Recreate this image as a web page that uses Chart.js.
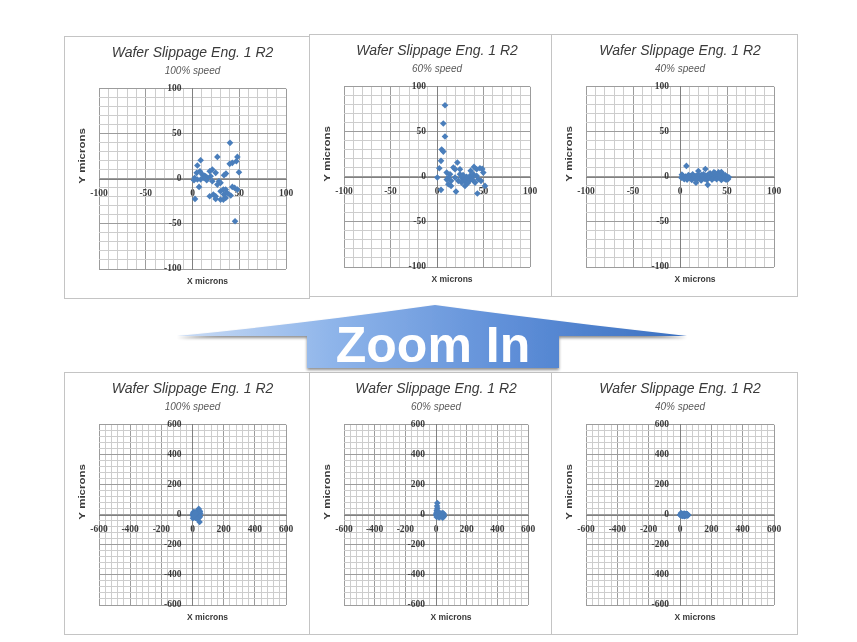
<!DOCTYPE html>
<html>
<head>
<meta charset="utf-8">
<script src="https://cdn.jsdelivr.net/npm/chart.js@4.4.1/dist/chart.umd.min.js"></script>
<style>
  body { margin: 0; background: #fff; width: 857px; height: 642px; position: relative; overflow: hidden; }
  .panel { position: absolute; background: #fff; border: 1px solid #c4c4c4; box-sizing: border-box; }
  .panel canvas { display: block; }
  #arrow { position: absolute; left: 0; top: 0; pointer-events: none; }
</style>
</head>
<body>

<div class="panel" style="left:64px;top:36px;width:246px;height:263px"><canvas id="c1" width="244" height="261"></canvas></div>
<div class="panel" style="left:309px;top:34px;width:245px;height:263px"><canvas id="c2" width="243" height="261"></canvas></div>
<div class="panel" style="left:551px;top:34px;width:247px;height:263px"><canvas id="c3" width="245" height="261"></canvas></div>
<div class="panel" style="left:64px;top:372px;width:246px;height:263px"><canvas id="c4" width="244" height="261"></canvas></div>
<div class="panel" style="left:309px;top:372px;width:243px;height:263px"><canvas id="c5" width="241" height="261"></canvas></div>
<div class="panel" style="left:551px;top:372px;width:247px;height:263px"><canvas id="c6" width="245" height="261"></canvas></div>

<!-- "Zoom In" arrow between the two rows -->
<svg id="arrow" width="857" height="642" viewBox="0 0 857 642">
  <defs>
    <linearGradient id="arrowFill" x1="177" y1="0" x2="687" y2="0" gradientUnits="userSpaceOnUse">
      <stop offset="0" stop-color="#cadcf5"/>
      <stop offset="0.3" stop-color="#8fb5ea"/>
      <stop offset="0.65" stop-color="#5f8fd8"/>
      <stop offset="1" stop-color="#3b70c0"/>
    </linearGradient>
    <filter id="arrowShadow" x="-5%" y="-30%" width="110%" height="170%">
      <feGaussianBlur in="SourceAlpha" stdDeviation="1.5"/>
      <feOffset dx="0" dy="2"/>
      <feComponentTransfer><feFuncA type="linear" slope="0.45"/></feComponentTransfer>
      <feMerge><feMergeNode/><feMergeNode in="SourceGraphic"/></feMerge>
    </filter>
  </defs>
  <path d="M177,336 Q300,324 435,305 Q560,322 687,336 L559,336 L559,368 L307,368 L307,336 Z"
        fill="url(#arrowFill)" filter="url(#arrowShadow)"/>
  <text x="433" y="362" text-anchor="middle" font-family="Liberation Sans, Arial, sans-serif"
        font-weight="bold" font-size="50" fill="#ffffff">Zoom In</text>
</svg>

<script>
// Chart text
const chartTitle = 'Wafer Slippage Eng. 1 R2';
const speeds = ['100% speed', '60% speed', '40% speed'];

// Axis ranges (zoomed row on top, full range row below)
const zoomRange = [-100, 100];
const zoomMajor = 50;
const zoomMinor = 10;
const wideRange = [-600, 600];
const wideMajor = 200;
const wideMinor = 40;

// 100% speed readings (microns)
const x100 = [40.1, 48, 26.6, 8.7, 5.2, 46.9, 42.6, 39.8, 49.7, 35.8, 33.7, 24.8, 18.4, 19.4, 15.9, 14, 12.3,
  10.5, 8, 4.5, 2.3, 5.2, 1.6, 8.7, 21.2, 28.3, 30, 26.6, 7, 2.7, 22.3, 24.8, 30, 33, 35.5, 33.7, 30, 35.5,
  37.3, 40.9, 33, 42.6, 45.1, 48, 45.5, 18.4, 24.8, 12.3, 15.2, 21.2];
const y100 = [40, 24.4, 24.4, 20.7, 14.8, 19.6, 17.8, 16.7, 7.4, 5.9, 4.1, 6.7, 8.5, 3, 1.1, 3, 3.7,
  4.8, 8.5, 6.7, 1.1, -0.7, -1.5, -0.7, -2.6, -2.6, -4.4, -6.3, -8.9, -22.2, -17.4, -19.3, -13.7, -11.9, -11.9, -17.4, -23, -21.1,
  -15.6, -18.5, -23, -8.9, -10, -11.9, -47, -19.3, -22.2, 1.1, -1.5, 10.4];

// 60% speed readings
const x60 = [8.6, 6.8, 8.6, 5, 6.8, 4.3, 2.5, 0.4, 4.3, 10.4, 14, 12.2, 15.1, 21.9, 17.6, 19.4, 12.2, 15.1,
  20.4, 24.7, 26.5, 28.3, 30.1, 31.9, 33.7, 35.5, 37.3, 39.1, 39.8, 36.2, 42.7, 46.2, 48.7, 44.4, 47.3, 51.6,
  43.4, 26.5, 22.9, 30.1, 40.9, 19.4, 24.7, 34.8, 42.7, 49.8, 10.5, 28, 33, 38];
const y60 = [79.6, 59.3, 44.8, 30.4, 28.1, 17.8, 9.6, -0.7, -14.4, 4.8, 3, -0.7, -4.4, 15.9, 10.4, 8.5, -8.1, -10,
  -16.3, 3, -0.7, -2.6, -4.4, 0, -1.5, 1.1, -0.7, 3, 11.1, 6.7, 8.5, 9.6, 8.9, -2.6, -4.4, -10,
  -18.5, -6.3, -4.4, -10, -6.3, -0.7, 8.5, -4.4, 1.1, 4.8, -3, 2, -7, -3];

// 40% speed readings
const x40 = [6.8, 27, 19.5, 29.5, 17, 1.5, 3, 4.5, 6, 7.5, 9, 10, 11.5, 12.5, 13.5, 15, 16, 18, 19, 20.5,
  21.5, 22.5, 24, 25, 26, 27.5, 28.5, 30, 31, 32, 33, 34, 35, 36, 37, 38, 39, 40, 41, 42, 43, 44, 45, 46,
  47, 48, 49, 50, 51, 52, 2, 8, 23, 36, 44];
const y40 = [12.2, 8.8, 6.5, -8.8, -6.5, -1, 1.5, -2.5, 0.5, -3, 2, -1, 1, -3.5, 3, -1.5, 1, -3, 2.5, -1,
  1.5, -4, 0, 3, -2, 1.5, -3.5, 2.5, -1, 4, 0.5, -3, 2, -1.5, 4.5, 0.5, -2.5, 3, 5, -1, 1.5, -3.5, 3.5, 0,
  -2, 2, -3, 0.5, -2.5, -0.5, 2.5, -1.5, 2, 5, 5.5];

const markerColour = '#4a7ebb';
const textColour = '#3a3a3a';

// Draws the "X microns" / "Y microns" titles next to the plot area
const axisTitles = {
  id: 'axisTitles',
  afterDraw(chart) {
    const ctx = chart.ctx;
    const a = chart.chartArea;
    ctx.save();
    ctx.font = 'bold 8.5px "Liberation Sans", Arial, sans-serif';
    ctx.fillStyle = textColour;
    ctx.textAlign = 'center';
    ctx.textBaseline = 'middle';
    ctx.fillText('X microns', (a.left + a.right) / 2 + 15, a.bottom + 13);
    ctx.translate(a.left - 16, (a.top + a.bottom) / 2 - 23);
    ctx.rotate(-Math.PI / 2);
    ctx.scale(1.35, 1);
    ctx.fillText('Y microns', 0, 0);
    ctx.restore();
  }
};

function makeChart(id, subtitle, xs, ys, range, minor, major) {
  var points = [];
  for (var i = 0; i < xs.length; i++) {
    points.push({x: xs[i], y: ys[i]});
  }

  //Major lines darker, minor lines lighter
  const gridColour = function(ctx) {
    return (ctx.tick && ctx.tick.value % major === 0) ? '#9c9c9c' : '#cdcdcd';
  };
  const tickLabel = function(value) {
    return value % major === 0 ? String(value) : '';
  };
  const tickFont = {family: '"Liberation Serif", serif', size: 9.5, weight: 'bold'};

  return new Chart(document.getElementById(id), {
    type: 'scatter',
    data: {
      datasets: [{
        data: points,
        pointStyle: 'rectRot',
        pointRadius: 3.3,
        backgroundColor: markerColour,
        borderColor: markerColour,
        borderWidth: 0
      }]
    },
    options: {
      responsive: false,
      animation: false,
      events: [],
      layout: {padding: {left: 34, right: 23, top: 0, bottom: 29}},
      plugins: {
        legend: {display: false},
        tooltip: {enabled: false},
        title: {
          display: true,
          text: chartTitle,
          color: textColour,
          font: {family: '"Liberation Sans", Arial, sans-serif', size: 14, style: 'italic', weight: 'normal'},
          padding: {top: 8, bottom: 1}
        },
        subtitle: {
          display: true,
          text: subtitle,
          color: '#595959',
          font: {family: '"Liberation Sans", Arial, sans-serif', size: 10, style: 'italic'},
          padding: {top: 2, bottom: 12}
        }
      },
      scales: {
        x: {
          type: 'linear',
          position: 'center',
          min: range[0],
          max: range[1],
          ticks: {stepSize: minor, autoSkip: false, maxRotation: 0, padding: 9, callback: tickLabel, font: tickFont, color: textColour},
          grid: {color: gridColour, drawTicks: false},
          border: {color: '#808080'}
        },
        y: {
          type: 'linear',
          position: 'center',
          min: range[0],
          max: range[1],
          ticks: {stepSize: minor, autoSkip: false, padding: 11, callback: tickLabel, font: tickFont, color: textColour},
          grid: {color: gridColour, drawTicks: false},
          border: {color: '#808080'}
        }
      }
    },
    plugins: [axisTitles]
  });
}

makeChart('c1', speeds[0], x100, y100, zoomRange, zoomMinor, zoomMajor);
makeChart('c2', speeds[1], x60, y60, zoomRange, zoomMinor, zoomMajor);
makeChart('c3', speeds[2], x40, y40, zoomRange, zoomMinor, zoomMajor);
makeChart('c4', speeds[0], x100, y100, wideRange, wideMinor, wideMajor);
makeChart('c5', speeds[1], x60, y60, wideRange, wideMinor, wideMajor);
makeChart('c6', speeds[2], x40, y40, wideRange, wideMinor, wideMajor);
</script>
</body>
</html>
